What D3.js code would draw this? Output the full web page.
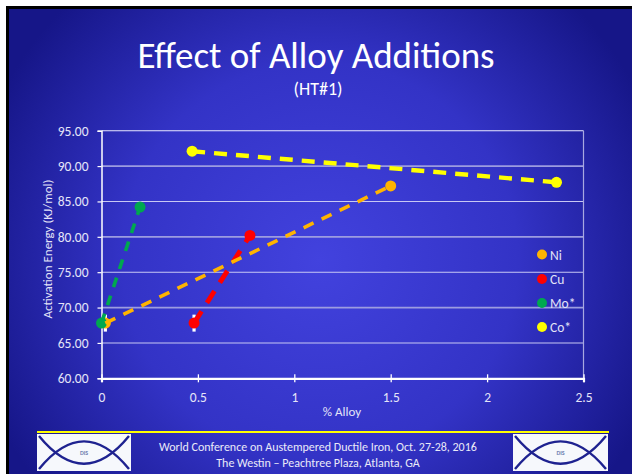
<!DOCTYPE html>
<html><head><meta charset="utf-8">
<script src="https://cdn.jsdelivr.net/npm/d3@7"></script>
<style>html,body{margin:0;padding:0;background:#fff;overflow:hidden}svg{display:block}</style>
</head><body>
<script>
// ---- data ----
const seriesNames = ["Ni", "Cu", "Mo*", "Co*"];
const seriesColors = ["#FFB400", "#FF0000", "#00A84F", "#FFFF00"];
const niX = [0.02, 1.5],  niY = [67.8, 87.2];
const cuX = [0.48, 0.77], cuY = [67.8, 80.2];
const moX = [0.0, 0.2],   moY = [67.8, 84.2];
const coX = [0.47, 2.36], coY = [92.1, 87.7];
const errX = [0.02, 0.48], errY = [67.8, 67.8], errPM = [1.2, 1.2];
const xTicks = [0, 0.5, 1, 1.5, 2, 2.5];
const xTickLabels = ["0", "0.5", "1", "1.5", "2", "2.5"];
const yTicks = [60, 65, 70, 75, 80, 85, 90, 95];
const yTickLabels = ["60.00", "65.00", "70.00", "75.00", "80.00", "85.00", "90.00", "95.00"];

const W = 632, H = 474;
const FONT = "Carlito, Lato, 'Open Sans', sans-serif";
const svg = d3.select("body").append("svg").attr("width", W).attr("height", H);
const defs = svg.append("defs");
const rg = defs.append("radialGradient").attr("id", "bg").attr("gradientUnits", "userSpaceOnUse")
  .attr("cx", 320).attr("cy", 260).attr("r", 360);
rg.append("stop").attr("offset", "0").attr("stop-color", "#4242DE");
rg.append("stop").attr("offset", "0.55").attr("stop-color", "#3333C6");
rg.append("stop").attr("offset", "1").attr("stop-color", "#161688");

svg.append("rect").attr("x", 6).attr("y", 6).attr("width", W).attr("height", H).attr("fill", "#000");
svg.append("rect").attr("x", 9).attr("y", 9).attr("width", W).attr("height", H).attr("fill", "url(#bg)");

// titles
svg.append("text").attr("x", 316).attr("y", 68).attr("text-anchor", "middle")
  .attr("font-family", FONT).attr("font-size", 37).attr("fill", "#fff").text("Effect of Alloy Additions");
svg.append("text").attr("x", 318).attr("y", 95).attr("text-anchor", "middle")
  .attr("font-family", FONT).attr("font-size", 18).attr("fill", "#fff").text("(HT#1)");

// scales
const x = d3.scaleLinear().domain([0, 2.5]).range([101.5, 583.5]);
const y = d3.scaleLinear().domain([60, 95]).range([378.3, 130.7]);

// gridlines
const grid = svg.append("g");
yTicks.filter(v => v > 60).forEach(v => {
  const heavy = (v === 90 || v === 80 || v === 70);
  grid.append("line").attr("x1", x(0)).attr("x2", x(2.5)).attr("y1", y(v)).attr("y2", y(v))
    .attr("stroke", v === 95 ? "#E8E8FF" : heavy ? "#9C9CE0" : "#C8C8F4")
    .attr("stroke-width", heavy ? 1.8 : 1.1);
});
// right border
svg.append("line").attr("x1", x(2.5)).attr("x2", x(2.5)).attr("y1", y(95)).attr("y2", y(60))
  .attr("stroke", "#A8A8E0").attr("stroke-width", 1.2);

// axes
const xAxis = svg.append("g").attr("transform", `translate(0,${y(60)})`)
  .call(d3.axisBottom(x).tickValues(xTicks).tickFormat((d, i) => xTickLabels[i]).tickSize(4).tickPadding(10));
xAxis.select(".domain").attr("stroke", "#fff").attr("stroke-width", 2.2);
xAxis.selectAll(".tick line").attr("y1", -4).attr("y2", 4).attr("stroke", "#fff").attr("stroke-width", 1.3);
xAxis.selectAll("text").attr("font-family", FONT).attr("font-size", 13.5).attr("fill", "#E4E4F8");

const yAxis = svg.append("g").attr("transform", `translate(${x(0)},0)`)
  .call(d3.axisLeft(y).tickValues(yTicks).tickFormat((d, i) => yTickLabels[i]).tickSize(4).tickPadding(9));
yAxis.select(".domain").attr("stroke", "#fff").attr("stroke-width", 1.5);
yAxis.selectAll(".tick line").attr("stroke", "#fff").attr("stroke-width", 1.2);
yAxis.selectAll("text").attr("font-family", FONT).attr("font-size", 13.5).attr("fill", "#E4E4F8");

// axis titles
svg.append("text").attr("transform", `translate(52,249) rotate(-90)`)
  .attr("text-anchor", "middle").attr("font-family", FONT).attr("font-size", 13).attr("fill", "#E4E4F8")
  .text("Activation Energy (KJ/mol)");
svg.append("text").attr("x", 342).attr("y", 416).attr("text-anchor", "middle")
  .attr("font-family", FONT).attr("font-size", 13).attr("fill", "#E4E4F8").text("% Alloy");

// series
const series = [
  {name: seriesNames[0], xs: niX, ys: niY, color: seriesColors[0], w: 3.6, dash: "11,9"},
  {name: seriesNames[1], xs: cuX, ys: cuY, color: seriesColors[1], w: 4.8, dash: "14,10"},
  {name: seriesNames[2], xs: moX, ys: moY, color: seriesColors[2], w: 3.6, dash: "10,9"},
  {name: seriesNames[3], xs: coX, ys: coY, color: seriesColors[3], w: 4.4, dash: "13,9"}
];
const line = d3.line().x(d => x(d[0])).y(d => y(d[1]));
const plot = svg.append("g");

// error bars
errX.forEach((ex, i) => {
  plot.append("line").attr("x1", x(ex)).attr("x2", x(ex))
    .attr("y1", y(errY[i] - errPM[i])).attr("y2", y(errY[i] + errPM[i]))
    .attr("stroke", "#fff").attr("stroke-width", 3.2);
});

function drawLine(s) {
  plot.append("path").datum(s.xs.map((v, i) => [v, s.ys[i]])).attr("d", line)
    .attr("fill", "none").attr("stroke", s.color).attr("stroke-width", s.w)
    .attr("stroke-dasharray", s.dash);
}
function drawMarkers(s) {
  plot.selectAll(null).data(s.xs.map((v, i) => [v, s.ys[i]])).enter().append("circle")
    .attr("cx", d => x(d[0])).attr("cy", d => y(d[1])).attr("r", 5.5).attr("fill", s.color);
}
drawMarkers(series[0]);
drawLine(series[1]); drawMarkers(series[1]);
drawLine(series[2]); drawMarkers(series[2]);
drawLine(series[0]);
drawLine(series[3]); drawMarkers(series[3]);

// legend
const leg = svg.append("g");
const legY = [254.5, 279, 303, 327];
series.forEach((s, i) => {
  leg.append("circle").attr("cx", 542).attr("cy", legY[i]).attr("r", 5).attr("fill", s.color);
  leg.append("text").attr("x", 550).attr("y", legY[i] + 5).attr("font-family", FONT)
    .attr("font-size", 13.5).attr("fill", "#E4E4F8").text(s.name);
});

// footer
svg.append("line").attr("x1", 37).attr("x2", 609).attr("y1", 432).attr("y2", 432)
  .attr("stroke", "#FFFF00").attr("stroke-width", 2.2);
function logo(x0, y0, w, h) {
  const g = svg.append("g").attr("transform", `translate(${x0},${y0})`);
  g.append("rect").attr("width", w).attr("height", h).attr("fill", "#F6F8FC");
  const m = h / 2;
  g.append("path").attr("d", `M2,${h - 2} Q${w / 2},${-h * 0.55} ${w - 2},${h - 2}`)
    .attr("fill", "none").attr("stroke", "#1E2290").attr("stroke-width", 2.4);
  g.append("path").attr("d", `M2,2 Q${w / 2},${h * 1.55} ${w - 2},2`)
    .attr("fill", "none").attr("stroke", "#1E2290").attr("stroke-width", 2.4);
  g.append("text").attr("x", w / 2).attr("y", m + 2.5).attr("text-anchor", "middle")
    .attr("font-family", FONT).attr("font-size", 6).attr("font-weight", "bold")
    .attr("fill", "#7080B0").text("DIS");
}
logo(37, 434, 94, 37);
logo(513, 434, 95, 37);
svg.append("text").attr("x", 318).attr("y", 451).attr("text-anchor", "middle")
  .attr("font-family", FONT).attr("font-size", 12).attr("fill", "#EAEAF8")
  .text("World Conference on Austempered Ductile Iron, Oct. 27-28, 2016");
svg.append("text").attr("x", 318).attr("y", 467).attr("text-anchor", "middle")
  .attr("font-family", FONT).attr("font-size", 12).attr("fill", "#EAEAF8")
  .text("The Westin – Peachtree Plaza, Atlanta, GA");
</script>
</body></html>
